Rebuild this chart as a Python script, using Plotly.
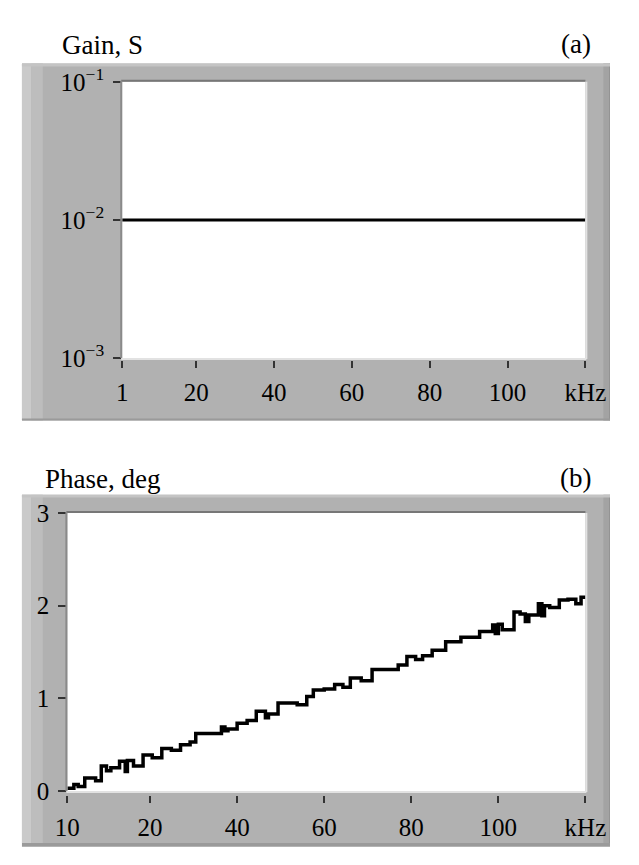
import plotly.graph_objects as go

# ---------------- data ----------------
gain_freq_khz = [1, 120]
gain_s = [0.01, 0.01]

phase_freq_khz = [1, 2.5, 3.5, 5, 7.5, 8.8, 10, 11, 13, 14.3, 14.8, 16.2, 18.4, 20.5,
                  22.7, 24.9, 27, 29.2, 30.5, 36.4, 37.2, 37.9, 40, 42.3, 44.4, 46.5,
                  47.2, 49.4, 51.6, 53.8, 56, 57.5, 60, 62.4, 64.3, 66, 68.5, 71, 74,
                  77, 79, 81, 82.6, 84.8, 87.9, 91.4, 95.7, 97.5, 98.7, 99.3, 100,
                  100.9, 103.6, 105, 106.2, 107, 109.2, 110, 110.6, 111.8, 114, 116,
                  117.8, 119, 120]
phase_deg = [0.03, 0.07, 0.05, 0.14, 0.11, 0.27, 0.22, 0.25, 0.32, 0.21, 0.33, 0.27,
             0.39, 0.36, 0.46, 0.44, 0.50, 0.53, 0.62, 0.69, 0.65, 0.67, 0.73, 0.76,
             0.86, 0.79, 0.83, 0.95, 0.95, 0.93, 1.02, 1.09, 1.10, 1.15, 1.12, 1.22,
             1.19, 1.31, 1.31, 1.36, 1.45, 1.42, 1.46, 1.52, 1.61, 1.66, 1.72, 1.72,
             1.79, 1.70, 1.80, 1.74, 1.93, 1.91, 1.83, 1.90, 2.02, 1.89, 2.00, 1.98,
             2.06, 2.07, 2.02, 2.09, 2.11]

x_tickvals = [1, 20, 40, 60, 80, 100, 120]
top_x_ticktext = ["1", "20", "40", "60", "80", "100", "kHz"]
bottom_x_ticktext = ["10", "20", "40", "60", "80", "100", "kHz"]
gain_tickvals = [0.001, 0.01, 0.1]
gain_ticktext = ["10<sup>\u22123</sup>", "10<sup>\u22122</sup>", "10<sup>\u22121</sup>"]
phase_tickvals = [0, 1, 2, 3]
phase_ticktext = ["0", "1", "2", "3"]

# ---------------- layout helpers ----------------
# The page body has an 8px margin, so the figure is sized to fit inside it and
# screen coordinates (measured on the reference) are shifted by that margin.
BODY = 8
W, H = 639 - 2 * BODY, 865 - 2 * BODY


def px(x):
    return (x - BODY) / W


def py(y):
    return 1 - (y - BODY) / H


FONT = "Liberation Serif"
GRAY = "#b1b1b1"

top_plot = dict(x0=115, x1=605, y0=66, y1=353)
bot_plot = dict(x0=57, x1=605, y0=514, y1=803)
top_frame = dict(x0=9, x1=636, y0=47, y1=418)
bot_frame = dict(x0=9, x1=636, y0=495, y1=863)

fig = go.Figure()
fig.add_trace(go.Scatter(x=gain_freq_khz, y=gain_s, mode="lines",
                         line=dict(color="black", width=3), xaxis="x", yaxis="y",
                         showlegend=False, hoverinfo="skip"))
fig.add_trace(go.Scatter(x=phase_freq_khz, y=phase_deg, mode="lines",
                         line=dict(color="black", width=3.5, shape="hv"),
                         xaxis="x2", yaxis="y2", showlegend=False, hoverinfo="skip"))


def rect(x0, x1, y0, y1, color, layer="below"):
    return dict(type="rect", xref="paper", yref="paper", layer=layer,
                x0=max(px(x0), 0), x1=min(px(x1), 1), y0=max(py(y1), 0), y1=min(py(y0), 1),
                fillcolor=color, line=dict(width=0))


def hline(x0, x1, y, color, w):
    return dict(type="line", xref="paper", yref="paper", layer="above",
                x0=px(x0), x1=px(x1), y0=py(y), y1=py(y), line=dict(color=color, width=w))


def vline(x, y0, y1, color, w):
    return dict(type="line", xref="paper", yref="paper", layer="above",
                x0=px(x), x1=px(x), y0=py(y1), y1=py(y0), line=dict(color=color, width=w))


shapes = []
for fr, pl in ((top_frame, top_plot), (bot_frame, bot_plot)):
    shapes.append(rect(fr["x0"], fr["x1"], fr["y0"], fr["y1"], GRAY))
    shapes.append(rect(fr["x0"], fr["x0"] + 10, fr["y0"], fr["y1"], "#cacaca"))
    shapes.append(rect(fr["x0"] + 10, fr["x0"] + 22, fr["y0"], fr["y1"], "#bdbdbd"))
    shapes.append(rect(fr["x1"] - 12, fr["x1"] - 6, fr["y0"], fr["y1"], "#a3a3a3"))
    shapes.append(rect(fr["x1"] - 6, fr["x1"], fr["y0"], fr["y1"], "#929292"))
    shapes.append(rect(fr["x0"], fr["x1"], fr["y0"], fr["y0"] + 3, "#c4c4c4"))
    shapes.append(rect(fr["x0"], fr["x1"], fr["y1"] - 2, fr["y1"], "#9a9a9a"))
    shapes.append(rect(pl["x0"], pl["x1"], pl["y0"], pl["y1"], "white"))
    shapes.append(hline(pl["x0"] - 1, pl["x1"], pl["y0"] - 1, "#777777", 2))
    shapes.append(vline(pl["x0"] - 1, pl["y0"] - 1, pl["y1"], "#8a8a8a", 2))
    shapes.append(vline(pl["x1"] + 1, pl["y0"], pl["y1"] + 1, "#e2e2e2", 2))
    shapes.append(hline(pl["x0"] - 1, pl["x1"] + 1, pl["y1"] + 1, "#e2e2e2", 2))

tickfont = dict(family=FONT, size=25, color="black")
common_x = dict(range=[1, 120], tickvals=x_tickvals, showgrid=False, zeroline=False,
                showline=False, ticks="outside", ticklen=7, tickwidth=2, tickcolor="#333333",
                tickfont=tickfont, anchor="free", ticklabelstandoff=3, fixedrange=True)
common_y = dict(showgrid=False, zeroline=False, showline=False, ticks="outside",
                ticklen=8, tickwidth=2, tickcolor="#333333", tickfont=tickfont,
                ticklabelstandoff=4, fixedrange=True)

title_font = dict(family=FONT, size=27, color="black")

fig.update_layout(
    width=W, height=H,
    margin=dict(l=0, r=0, t=0, b=0),
    paper_bgcolor="white", plot_bgcolor="rgba(0,0,0,0)",
    shapes=shapes,
    xaxis=dict(common_x, domain=[px(top_plot["x0"]), px(top_plot["x1"])],
               position=py(top_plot["y1"] + 2), ticktext=top_x_ticktext),
    yaxis=dict(common_y, type="log", range=[-3, -1], tickvals=gain_tickvals,
               ticktext=gain_ticktext,
               domain=[py(top_plot["y1"]), py(top_plot["y0"])], anchor="x"),
    xaxis2=dict(common_x, domain=[px(bot_plot["x0"]), px(bot_plot["x1"])],
                position=py(bot_plot["y1"] + 4), ticktext=bottom_x_ticktext),
    yaxis2=dict(common_y, range=[0, 3], tickvals=phase_tickvals, ticktext=phase_ticktext,
                domain=[py(bot_plot["y1"]), py(bot_plot["y0"])], anchor="x2"),
    annotations=[
        dict(text="Gain, S", xref="paper", yref="paper", x=px(49), y=py(28),
             xanchor="left", yanchor="middle", showarrow=False, font=title_font),
        dict(text="(a)", xref="paper", yref="paper", x=px(613), y=py(27),
             xanchor="right", yanchor="middle", showarrow=False, font=title_font),
        dict(text="Phase, deg", xref="paper", yref="paper", x=px(31), y=py(479),
             xanchor="left", yanchor="middle", showarrow=False, font=title_font),
        dict(text="(b)", xref="paper", yref="paper", x=px(613), y=py(478),
             xanchor="right", yanchor="middle", showarrow=False, font=title_font),
    ],
)

fig.write_html("out.html")
